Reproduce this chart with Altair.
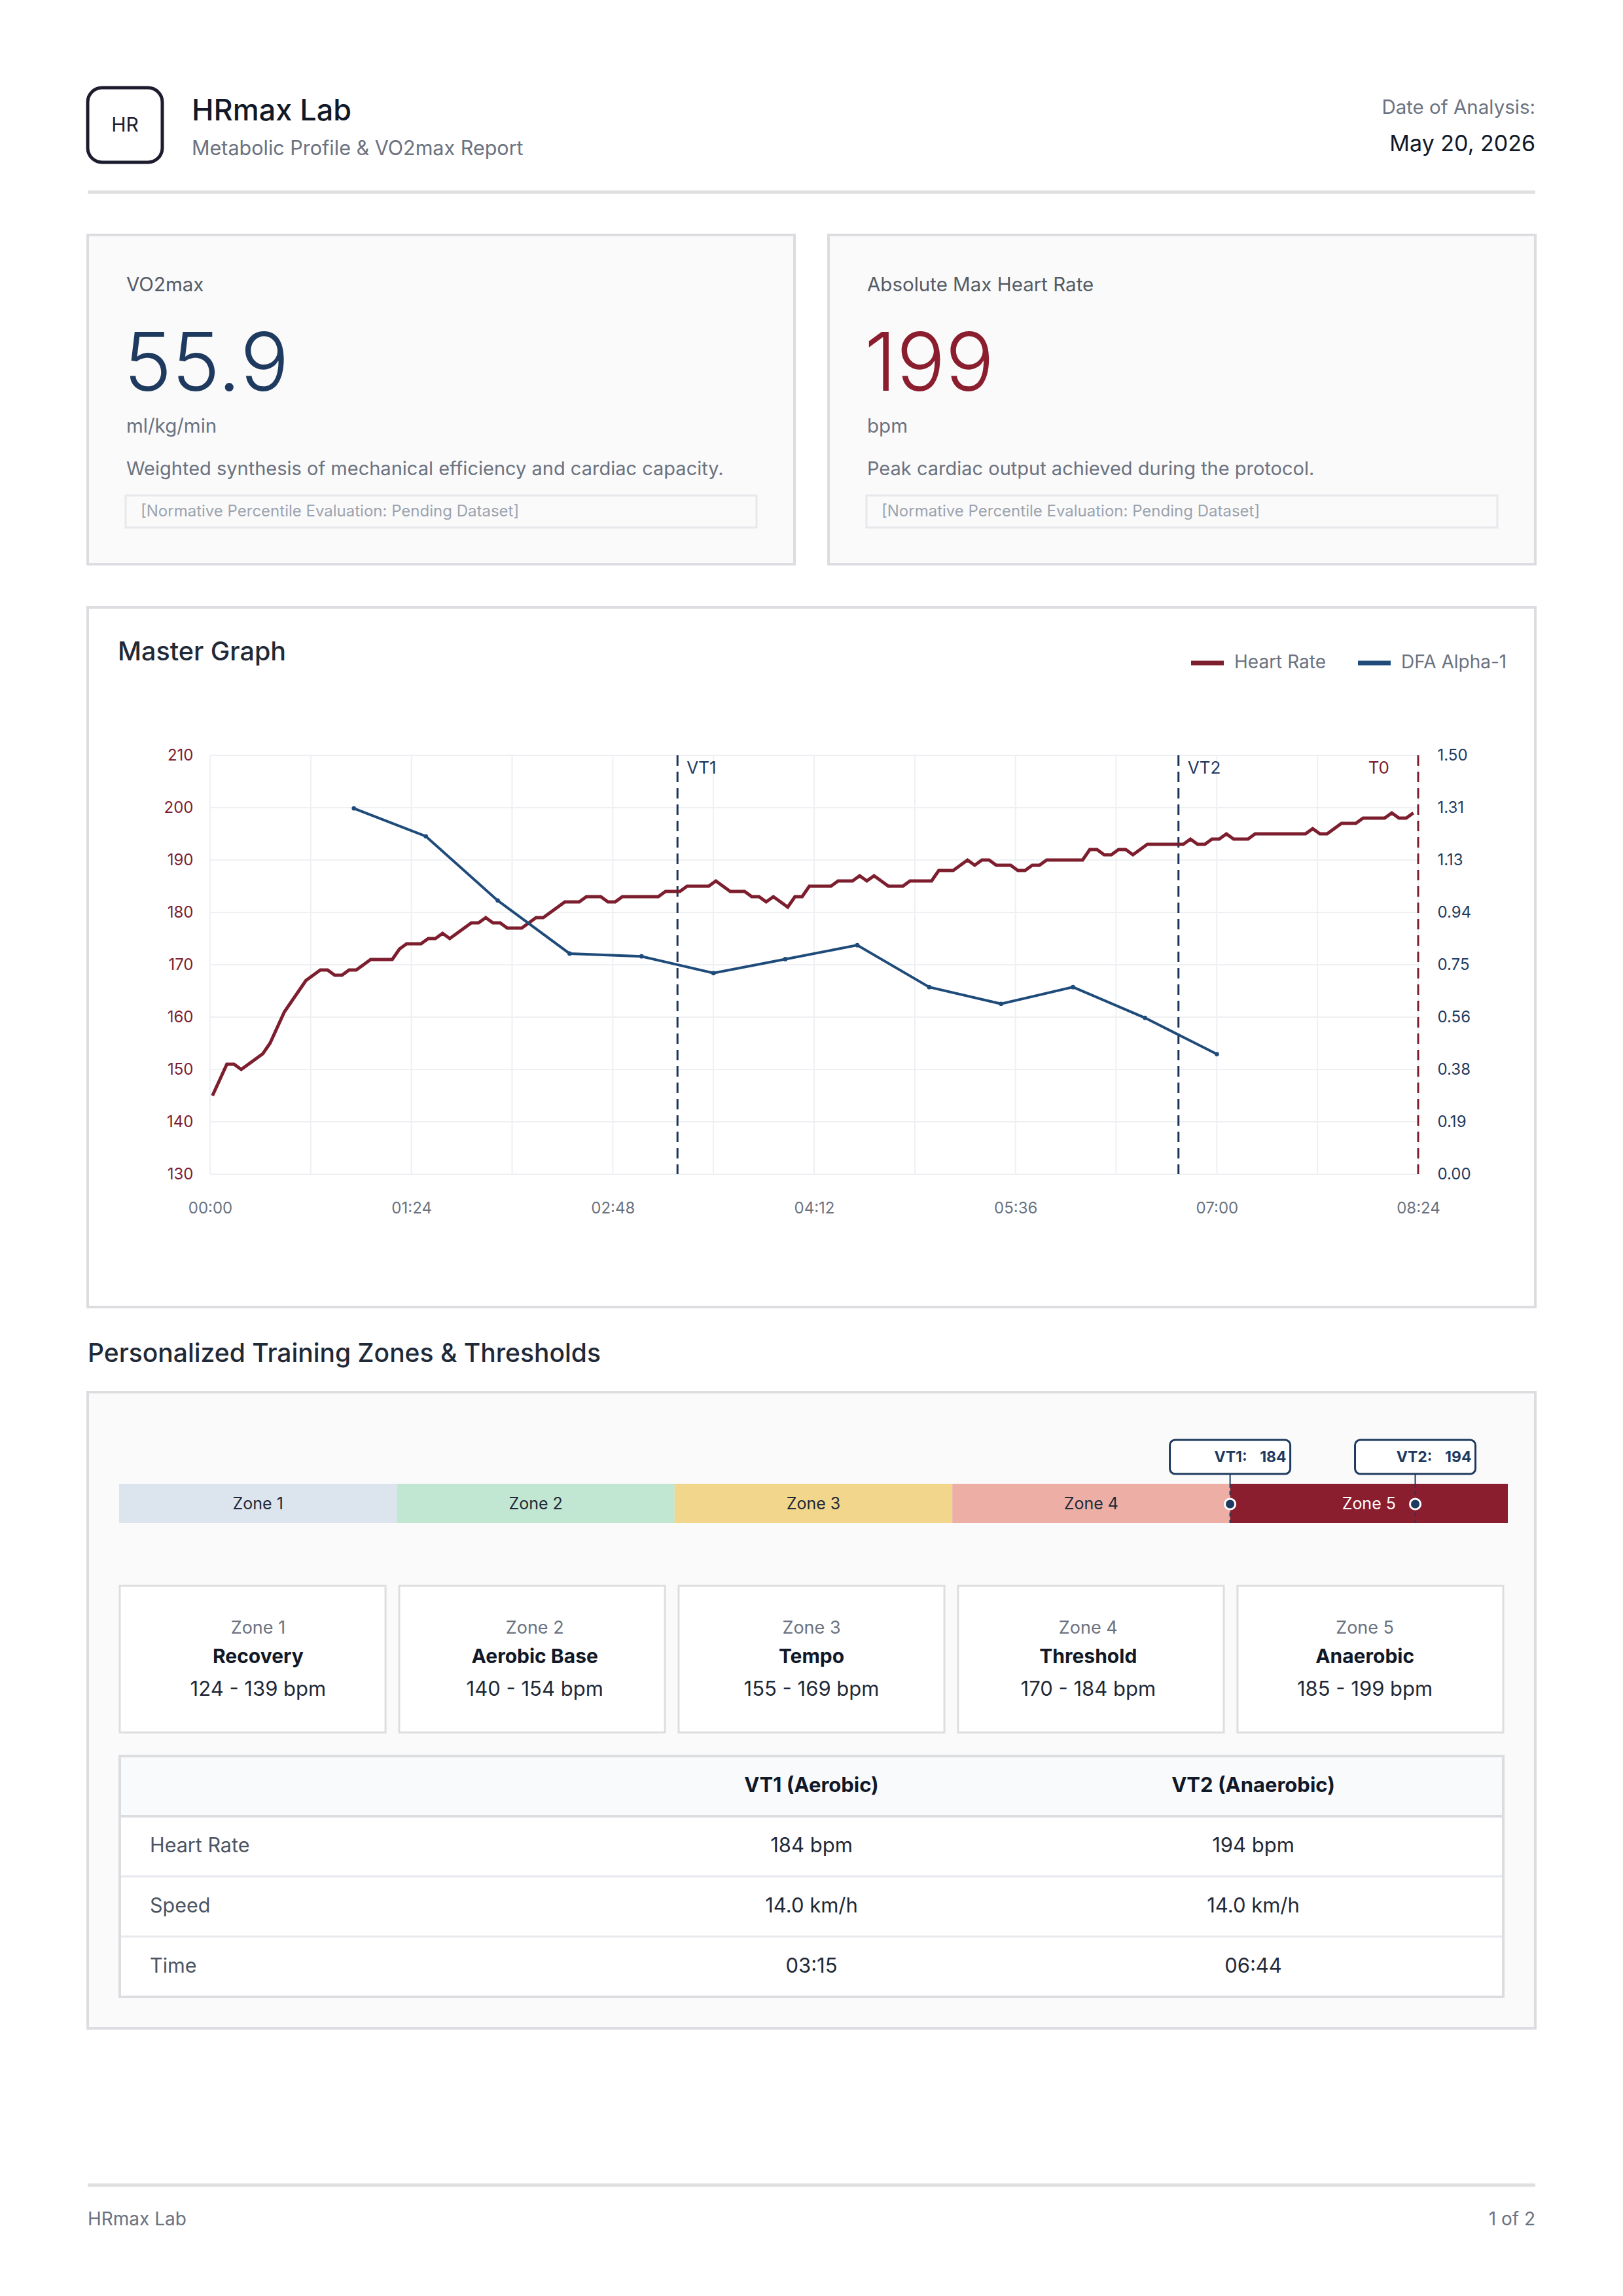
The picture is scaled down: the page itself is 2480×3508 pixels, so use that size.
import altair as alt
import pandas as pd

FONT = "Inter"

# ---------------- report metadata ----------------
lab_name = "HRmax Lab"
report_title = "Metabolic Profile & VO2max Report"
date_caption = "Date of Analysis:"
analysis_date = "May 20, 2026"
page_label = "1 of 2"

# ---------------- headline metrics ----------------
vo2max = 55.9
vo2max_unit = "ml/kg/min"
vo2max_note = "Weighted synthesis of mechanical efficiency and cardiac capacity."
max_hr_unit = "bpm"
max_hr_note = "Peak cardiac output achieved during the protocol."
pending_note = "[Normative Percentile Evaluation: Pending Dataset]"

# ---------------- heart rate trace (one sample every 3 s from 00:01) ----------------
hr_bpm = [
    145, 148, 151, 151, 150, 151, 152, 153, 155, 158,
    161, 163, 165, 167, 168, 169, 169, 168, 168, 169,
    169, 170, 171, 171, 171, 171, 173, 174, 174, 174,
    175, 175, 176, 175, 176, 177, 178, 178, 179, 178,
    178, 177, 177, 177, 178, 179, 179, 180, 181, 182,
    182, 182, 183, 183, 183, 182, 182, 183, 183, 183,
    183, 183, 183, 184, 184, 184, 185, 185, 185, 185,
    186, 185, 184, 184, 184, 183, 183, 182, 183, 182,
    181, 183, 183, 185, 185, 185, 185, 186, 186, 186,
    187, 186, 187, 186, 185, 185, 185, 186, 186, 186,
    186, 188, 188, 188, 189, 190, 189, 190, 190, 189,
    189, 189, 188, 188, 189, 189, 190, 190, 190, 190,
    190, 190, 192, 192, 191, 191, 192, 192, 191, 192,
    193, 193, 193, 193, 193, 193, 194, 193, 193, 194,
    194, 195, 194, 194, 194, 195, 195, 195, 195, 195,
    195, 195, 195, 196, 195, 195, 196, 197, 197, 197,
    198, 198, 198, 198, 199, 198, 198, 199,
]
hr_sec = list(range(1, 1 + 3 * len(hr_bpm), 3))

# ---------------- DFA alpha-1 (one value per 30 s window) ----------------
dfa_sec = [60, 90, 120, 150, 180, 210, 240, 270, 300, 330, 360, 390, 420]
dfa_alpha1 = [1.31, 1.21, 0.98, 0.79, 0.78, 0.72, 0.77, 0.82, 0.67, 0.61, 0.67, 0.56, 0.43]

test_end_sec = 504
test_end_label = "T0"

# ---------------- ventilatory thresholds ----------------
vt_names = ["VT1", "VT2"]
vt_kinds = ["Aerobic", "Anaerobic"]
vt_sec = [195, 404]
vt_hr = [184, 194]
vt_speed = [14.0, 14.0]

# ---------------- training zones ----------------
zone_labels = ["Zone 1", "Zone 2", "Zone 3", "Zone 4", "Zone 5"]
zone_names = ["Recovery", "Aerobic Base", "Tempo", "Threshold", "Anaerobic"]
zone_low = [124, 140, 155, 170, 185]
zone_high = [139, 154, 169, 184, 199]
zone_colors = ["#dce4ee", "#c1e6d2", "#f1d68c", "#ecaea5", "#8b1e2e"]

# ---------------- axis ticks ----------------
time_ticks = [0, 84, 168, 252, 336, 420, 504]
time_grid = [0, 42, 84, 126, 168, 210, 252, 294, 336, 378, 420, 462, 504]
hr_ticks = [130, 140, 150, 160, 170, 180, 190, 200, 210]
dfa_ticks = [0, 0.1875, 0.375, 0.5625, 0.75, 0.9375, 1.125, 1.3125, 1.5]
legend_labels = ["Heart Rate", "DFA Alpha-1"]
table_row_labels = ["Heart Rate", "Speed", "Time"]

# ---------------- palette ----------------
INK = "#1f2430"
MUTED = "#6b7280"
FAINT = "#9ca3af"
BORDER = "#dcdde0"
CARD = "#fafafa"
GRID = "#eef0f3"
HR_COLOR = "#7d1e2e"
DFA_COLOR = "#1f4b7a"
VT_COLOR = "#1b3358"
NAVY = "#1e3a5f"
MAROON = "#8b1e2e"

PAGE_W, PAGE_H = 2480, 3508
ONE = pd.DataFrame({"k": [0]})


def txt(s, x, y, size, color, weight="normal", align="left", baseline="middle"):
    return alt.Chart(ONE).mark_text(
        align=align, baseline=baseline, font=FONT, fontSize=size,
        fontWeight=weight, color=color,
    ).encode(x=alt.value(x), y=alt.value(y), text=alt.value(s))


def box(x, y, x2, y2, fill, stroke=None, width=0, radius=0):
    kw = dict(fill=fill, cornerRadius=radius)
    if stroke:
        kw.update(stroke=stroke, strokeWidth=width)
    return alt.Chart(ONE).mark_rect(**kw).encode(
        x=alt.value(x), x2=alt.value(x2), y=alt.value(y), y2=alt.value(y2)
    )


layers = []

# ================= header =================
layers += [
    box(134, 134, 248, 248, "white", "#1c1c2e", 5, 22),
    txt("HR", 191, 192, 30, "#1c1c2e", align="center"),
    txt(lab_name, 293, 170, 45, "#111827", 500),
    txt(report_title, 293, 228, 30.5, MUTED),
    txt(date_caption, 2346, 165, 29.5, MUTED, align="right"),
    txt(analysis_date, 2346, 221, 34, "#111827", align="right"),
    box(134, 291, 2346, 296, "#e0e0e0"),
]

# ================= KPI cards =================
max_hr = max(hr_bpm)
kpis = [
    (134, 1214, "VO2max", f"{vo2max:.1f}", NAVY, vo2max_unit, vo2max_note),
    (1266, 2346, "Absolute Max Heart Rate", f"{max_hr}", MAROON, max_hr_unit, max_hr_note),
]
for left, right, title, value, color, unit, note in kpis:
    cx = left + 59
    layers += [
        box(left, 359, right, 862, CARD, BORDER, 4),
        txt(title, cx, 436, 29.5, "#555b66"),
        txt(value, cx - 4, 597, 124, color, 300, baseline="alphabetic"),
        txt(unit, cx, 652, 29.5, MUTED),
        txt(note, cx, 717, 29, MUTED),
        box(cx - 1, 757, right - 58, 806, "#fafafa", "#e6e8eb", 3),
        txt(pending_note, cx + 22, 782, 24, FAINT),
    ]

# ================= master graph =================
layers += [
    box(134, 928, 2346, 1997, "white", BORDER, 4),
    txt("Master Graph", 180, 997, 39.5, "#1f2937", 500),
]
for i, (x0, col) in enumerate([(1820, HR_COLOR), (2075, DFA_COLOR)]):
    layers += [
        alt.Chart(ONE).mark_rule(color=col, strokeWidth=7).encode(
            x=alt.value(x0), x2=alt.value(x0 + 50), y=alt.value(1013)
        ),
        txt(legend_labels[i], x0 + 66, 1013, 28, MUTED),
    ]

T_SCALE = alt.Scale(domain=[0, test_end_sec], range=[321, 2167], nice=False, zero=False)
HR_SCALE = alt.Scale(domain=[130, 210], range=[1794, 1154], nice=False, zero=False)
DFA_SCALE = alt.Scale(domain=[0, 1.5], range=[1794, 1154], nice=False, zero=False)

xgrid = alt.Chart(pd.DataFrame({"t": time_grid})).mark_rule(color=GRID, strokeWidth=2).encode(
    x=alt.X("t:Q", scale=T_SCALE, axis=None),
    y=alt.YDatum(210, scale=HR_SCALE, axis=None),
    y2=alt.Y2Datum(130),
)
ygrid = alt.Chart(pd.DataFrame({"v": hr_ticks})).mark_rule(color=GRID, strokeWidth=2).encode(
    y=alt.Y("v:Q", scale=HR_SCALE, axis=None),
    x=alt.XDatum(0, scale=T_SCALE, axis=None),
    x2=alt.X2Datum(test_end_sec),
)
layers += [xgrid, ygrid]

axis_common = dict(grid=False, domain=False, ticks=False, tickSize=0, zindex=2,
                   labelFont=FONT, labelFontSize=24, labelFlush=False, title=None)
x_axis = alt.Axis(
    orient="bottom", offset=1794 - PAGE_H, values=time_ticks,
    labelExpr="utcFormat(datum.value * 1000, '%M:%S')",
    labelPadding=40, labelColor=MUTED, **axis_common,
)
hr_axis = alt.Axis(
    orient="left", offset=-321, values=hr_ticks, labelPadding=26,
    labelColor=HR_COLOR, **axis_common,
)
dfa_axis = alt.Axis(
    orient="right", offset=2167 - PAGE_W, values=dfa_ticks, format=".2f",
    labelPadding=29, labelColor=NAVY, **axis_common,
)

hr_df = pd.DataFrame({"t": hr_sec, "hr": hr_bpm})
dfa_df = pd.DataFrame({"t": dfa_sec, "dfa": dfa_alpha1})
vt_df = pd.DataFrame({
    "name": vt_names, "kind": vt_kinds, "t": vt_sec, "hr": vt_hr, "speed": vt_speed,
})
end_df = pd.DataFrame({"t": [test_end_sec], "name": [test_end_label]})

vt_rules = alt.Chart(vt_df).mark_rule(color=VT_COLOR, strokeWidth=3, strokeDash=[16, 9]).encode(
    x=alt.X("t:Q", scale=T_SCALE, axis=None),
    y=alt.YDatum(210, scale=HR_SCALE, axis=None),
    y2=alt.Y2Datum(130),
)
vt_text = alt.Chart(vt_df).mark_text(
    align="left", baseline="middle", dx=14, dy=20, font=FONT, fontSize=26, color=NAVY
).encode(
    x=alt.X("t:Q", scale=T_SCALE, axis=None),
    y=alt.YDatum(210, scale=HR_SCALE, axis=None),
    text="name:N",
)
end_rule = alt.Chart(end_df).mark_rule(color=HR_COLOR, strokeWidth=3, strokeDash=[16, 9]).encode(
    x=alt.X("t:Q", scale=T_SCALE, axis=None),
    y=alt.YDatum(210, scale=HR_SCALE, axis=None),
    y2=alt.Y2Datum(130),
)
end_text = alt.Chart(end_df).mark_text(
    align="right", baseline="middle", dx=-44, dy=20, font=FONT, fontSize=26, color=HR_COLOR
).encode(
    x=alt.X("t:Q", scale=T_SCALE, axis=None),
    y=alt.YDatum(210, scale=HR_SCALE, axis=None),
    text="name:N",
)
hr_line = alt.Chart(hr_df).mark_line(color=HR_COLOR, strokeWidth=5).encode(
    x=alt.X("t:Q", scale=T_SCALE, axis=x_axis),
    y=alt.Y("hr:Q", scale=HR_SCALE, axis=hr_axis),
)
dfa_line = alt.Chart(dfa_df).mark_line(color=DFA_COLOR, strokeWidth=4).encode(
    x=alt.X("t:Q", scale=T_SCALE, axis=None),
    y=alt.Y("dfa:Q", scale=DFA_SCALE, axis=dfa_axis),
)
dfa_pts = alt.Chart(dfa_df).mark_circle(color=DFA_COLOR, size=45, opacity=1).encode(
    x=alt.X("t:Q", scale=T_SCALE, axis=None),
    y=alt.Y("dfa:Q", scale=DFA_SCALE, axis=None),
)
layers += [vt_rules, end_rule, hr_line, dfa_line, dfa_pts, vt_text, end_text]

# ================= training zones =================
layers += [
    txt("Personalized Training Zones & Thresholds", 134, 2069, 39, "#1f2937", 500),
    box(134, 2127, 2346, 3099, CARD, BORDER, 4),
]

zone_df = pd.DataFrame({
    "zone": zone_labels, "name": zone_names, "low": zone_low, "high": zone_high,
})
zone_df["start"] = [zone_low[0]] + zone_high[:-1]
Z_SCALE = alt.Scale(domain=[zone_low[0], zone_high[-1]], range=[182, 2304], nice=False, zero=False)

zone_bar = alt.Chart(zone_df).mark_rect().encode(
    x=alt.X("start:Q", scale=Z_SCALE, axis=None),
    x2="high:Q",
    y=alt.value(2267), y2=alt.value(2327),
    color=alt.Color("zone:N", scale=alt.Scale(domain=zone_labels, range=zone_colors), legend=None),
)
zone_bar_text = alt.Chart(zone_df).transform_calculate(
    mid="(datum.start + datum.high) / 2"
).mark_text(font=FONT, fontSize=25, baseline="middle").encode(
    x=alt.X("mid:Q", scale=Z_SCALE, axis=None),
    y=alt.value(2298),
    text="zone:N",
    color=alt.condition(f"datum.zone == '{zone_labels[-1]}'", alt.value("white"), alt.value("#1f2937")),
)
vt_zone_dash = alt.Chart(vt_df).mark_rule(color=NAVY, strokeWidth=2, strokeDash=[6, 5]).encode(
    x=alt.X("hr:Q", scale=Z_SCALE, axis=None), y=alt.value(2267), y2=alt.value(2327),
)
vt_zone_stem = alt.Chart(vt_df).mark_rule(color=NAVY, strokeWidth=2).encode(
    x=alt.X("hr:Q", scale=Z_SCALE, axis=None), y=alt.value(2252), y2=alt.value(2267),
)
vt_zone_dot = alt.Chart(vt_df).mark_point(
    shape="circle", filled=True, fill=NAVY, stroke="white", strokeWidth=3, size=260, opacity=1
).encode(
    x=alt.X("hr:Q", scale=Z_SCALE, axis=None), y=alt.value(2298),
)
vt_zone_box = alt.Chart(vt_df).mark_rect(
    fill="white", stroke=NAVY, strokeWidth=3, cornerRadius=8, xOffset=-92, x2Offset=92
).encode(
    x=alt.X("hr:Q", scale=Z_SCALE, axis=None), x2="hr:Q",
    y=alt.value(2200), y2=alt.value(2252),
)
vt_zone_name = alt.Chart(vt_df).transform_calculate(
    lbl="datum.name + ':'"
).mark_text(align="right", baseline="middle", dx=26, font=FONT, fontSize=23,
            fontWeight="bold", color=NAVY).encode(
    x=alt.X("hr:Q", scale=Z_SCALE, axis=None), y=alt.value(2227), text="lbl:N",
)
vt_zone_val = alt.Chart(vt_df).mark_text(
    align="right", baseline="middle", dx=86, font=FONT, fontSize=23, fontWeight="bold", color=NAVY
).encode(
    x=alt.X("hr:Q", scale=Z_SCALE, axis=None), y=alt.value(2227), text="hr:Q",
)
layers += [zone_bar, zone_bar_text, vt_zone_dash, vt_zone_stem, vt_zone_dot,
           vt_zone_box, vt_zone_name, vt_zone_val]

# zone cards
ZC_SCALE = alt.Scale(domain=zone_labels, range=[183, 2297], paddingInner=0.049, paddingOuter=0)
zc_base = alt.Chart(zone_df).transform_calculate(
    rng="datum.low + ' - ' + datum.high + ' bpm'"
)
zone_cards = zc_base.mark_rect(fill="white", stroke="#dedede", strokeWidth=3).encode(
    x=alt.X("zone:N", scale=ZC_SCALE, axis=None), y=alt.value(2423), y2=alt.value(2647),
)
zc_label = zc_base.mark_text(font=FONT, fontSize=27, color=MUTED, baseline="middle").encode(
    x=alt.X("zone:N", scale=ZC_SCALE, axis=None), y=alt.value(2488), text="zone:N",
)
zc_name = zc_base.mark_text(font=FONT, fontSize=30, fontWeight="bold", color="#111827",
                            baseline="middle").encode(
    x=alt.X("zone:N", scale=ZC_SCALE, axis=None), y=alt.value(2532), text="name:N",
)
zc_range = zc_base.mark_text(font=FONT, fontSize=31, color="#1f2937", baseline="middle").encode(
    x=alt.X("zone:N", scale=ZC_SCALE, axis=None), y=alt.value(2582), text="rng:N",
)
layers += [zone_cards, zc_label, zc_name, zc_range]

# threshold table
row_keys = ["header"] + table_row_labels
ROW_SCALE = alt.Scale(domain=row_keys, range=[2683, 3051], paddingInner=0, paddingOuter=0)
COL_SCALE = alt.Scale(domain=[1, 2], range=[1240, 1915], nice=False, zero=False)

rows_df = pd.DataFrame({"row": row_keys, "is_head": [True, False, False, False]})
table_rows = alt.Chart(rows_df).mark_rect(stroke="#e8eaed", strokeWidth=3).encode(
    x=alt.value(183), x2=alt.value(2297),
    y=alt.Y("row:N", scale=ROW_SCALE, axis=None),
    fill=alt.condition("datum.is_head", alt.value("#f9fafb"), alt.value("white")),
)
head_line = alt.Chart(pd.DataFrame({"row": [table_row_labels[0]]})).mark_rule(
    color="#dcdde0", strokeWidth=4
).encode(
    x=alt.value(183), x2=alt.value(2297),
    y=alt.Y("row:N", scale=ROW_SCALE, axis=None, bandPosition=0),
)
table_frame = box(183, 2683, 2297, 3051, "transparent", "#dcdde0", 4)

cells = []
for i in range(len(vt_names)):
    s = vt_sec[i]
    cells.append(("Heart Rate", i + 1, f"{vt_hr[i]} bpm"))
    cells.append(("Speed", i + 1, f"{vt_speed[i]:.1f} km/h"))
    cells.append(("Time", i + 1, f"{s // 60:02d}:{s % 60:02d}"))
cells_df = pd.DataFrame(cells, columns=["row", "col", "val"])
head_df = pd.DataFrame({
    "row": ["header"] * len(vt_names),
    "col": [1, 2],
    "val": [f"{n} ({k})" for n, k in zip(vt_names, vt_kinds)],
})
label_df = pd.DataFrame({"row": table_row_labels})

head_text = alt.Chart(head_df).mark_text(
    font=FONT, fontSize=31, fontWeight="bold", color="#111827", baseline="middle"
).encode(
    x=alt.X("col:Q", scale=COL_SCALE, axis=None),
    y=alt.Y("row:N", scale=ROW_SCALE, axis=None), text="val:N",
)
cell_text = alt.Chart(cells_df).mark_text(
    font=FONT, fontSize=31, color="#1f2937", baseline="middle"
).encode(
    x=alt.X("col:Q", scale=COL_SCALE, axis=None),
    y=alt.Y("row:N", scale=ROW_SCALE, axis=None), text="val:N",
)
label_text = alt.Chart(label_df).mark_text(
    font=FONT, fontSize=30.5, color="#4b5563", align="left", baseline="middle"
).encode(
    x=alt.value(229), y=alt.Y("row:N", scale=ROW_SCALE, axis=None), text="row:N",
)
layers += [table_rows, head_line, table_frame, head_text, cell_text, label_text]

# ================= footer =================
layers += [
    box(134, 3336, 2346, 3341, "#e0e0e0"),
    txt(lab_name, 134, 3392, 28, MUTED),
    txt(page_label, 2346, 3392, 28, MUTED, align="right"),
]

chart = alt.layer(*layers).resolve_scale(
    x="independent", y="independent", color="independent", fill="independent"
).properties(
    width=PAGE_W, height=PAGE_H, padding=0, background="white",
    autosize=alt.AutoSizeParams(type="none"),
).configure_view(stroke=None)

chart.save("out.html", embed_options={"renderer": "svg", "actions": False})
